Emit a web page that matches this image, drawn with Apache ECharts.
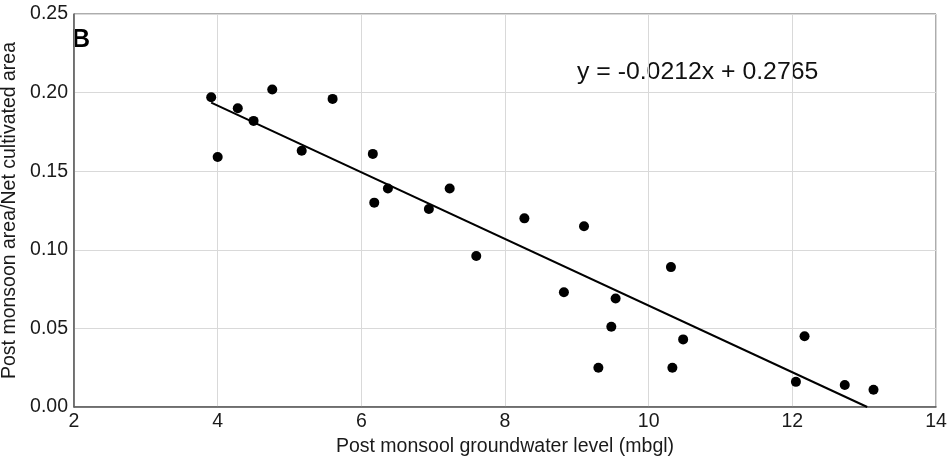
<!DOCTYPE html>
<html>
<head>
<meta charset="utf-8">
<script src="https://cdn.jsdelivr.net/npm/echarts@6/dist/echarts.min.js"></script>
<style>
  html, body { margin: 0; padding: 0; background: #fff; }
  #chart { width: 950px; height: 456px; }
</style>
</head>
<body>
<div id="chart"></div>
<script>
// Post-monsoon groundwater level (mbgl) for each block
const groundwaterLevel = [3.91, 4.00, 4.28, 4.50, 4.76, 5.17, 5.60, 6.16, 6.37, 6.18,
  6.94, 7.23, 7.60, 8.27, 9.10, 10.31, 8.82, 9.54, 9.48, 9.30,
  10.48, 10.33, 12.17, 12.05, 12.73, 13.13];
// Post-monsoon irrigated area as a share of net cultivated area
const areaRatio = [0.197, 0.159, 0.190, 0.182, 0.202, 0.163, 0.196, 0.161, 0.139, 0.130,
  0.126, 0.139, 0.096, 0.120, 0.115, 0.089, 0.073, 0.069, 0.051, 0.025,
  0.043, 0.025, 0.045, 0.016, 0.014, 0.011];

// Linear fit coefficients
const slope = -0.0212;
const intercept = 0.2765;

// Axis ticks
const xTicks = [2, 4, 6, 8, 10, 12, 14];
const yTicks = [0.00, 0.05, 0.10, 0.15, 0.20, 0.25];

const points = groundwaterLevel.map((x, i) => [x, areaRatio[i]]);
const fitStart = Math.min(...groundwaterLevel);
const fitEnd = -intercept / slope; // where the fitted line reaches zero
const fitLine = [fitStart, fitEnd].map(x => [x, slope * x + intercept]);

const font = 'Liberation Sans, Arial, sans-serif';
const textColor = '#1a1a1a';
const chart = echarts.init(document.getElementById('chart'), null, { renderer: 'canvas' });
chart.setOption({
  animation: false,
  backgroundColor: '#ffffff',
  grid: {
    left: 74, right: 14, top: 14, bottom: 49,
    outerBoundsMode: 'none', containLabel: false,
    show: true, borderColor: '#5a5a5a', borderWidth: 1
  },
  xAxis: {
    type: 'value', min: xTicks[0], max: xTicks[xTicks.length - 1], interval: 2,
    name: 'Post monsool groundwater level (mbgl)', nameLocation: 'middle', nameGap: 21,
    nameTextStyle: { fontFamily: font, fontSize: 19.5, color: textColor },
    axisLine: { show: true, lineStyle: { color: '#5a5a5a', width: 1.5 } },
    axisTick: { show: false },
    axisLabel: { fontFamily: font, fontSize: 19.5, color: textColor, margin: 5 },
    splitLine: { show: true, lineStyle: { color: '#d9d9d9', width: 1 } }
  },
  yAxis: {
    type: 'value', min: yTicks[0], max: yTicks[yTicks.length - 1], interval: 0.05,
    name: 'Post monsoon area/Net cultivated area', nameLocation: 'middle', nameGap: 52,
    nameTextStyle: { fontFamily: font, fontSize: 19.5, color: textColor },
    axisLine: { show: true, lineStyle: { color: '#5a5a5a', width: 1.5 } },
    axisTick: { show: false },
    axisLabel: { fontFamily: font, fontSize: 19.5, color: textColor, margin: 6,
      formatter: v => v.toFixed(2) },
    splitLine: { show: true, lineStyle: { color: '#d9d9d9', width: 1 } }
  },
  graphic: [
    { type: 'text', left: 72, top: 28, style: { text: 'B', font: 'bold 25px ' + font, fill: '#000' } },
    { type: 'text', left: 577, top: 60,
      style: { text: 'y = -0.0212x + 0.2765', font: '24.8px ' + font, fill: '#111' } }
  ],
  series: [
    {
      type: 'line', data: fitLine, showSymbol: false, symbol: 'none',
      lineStyle: { color: '#000', width: 2 }, z: 2
    },
    {
      type: 'scatter', data: points, symbol: 'circle', symbolSize: 10,
      itemStyle: { color: '#000', opacity: 1 }, z: 3
    }
  ]
});
</script>
</body>
</html>
